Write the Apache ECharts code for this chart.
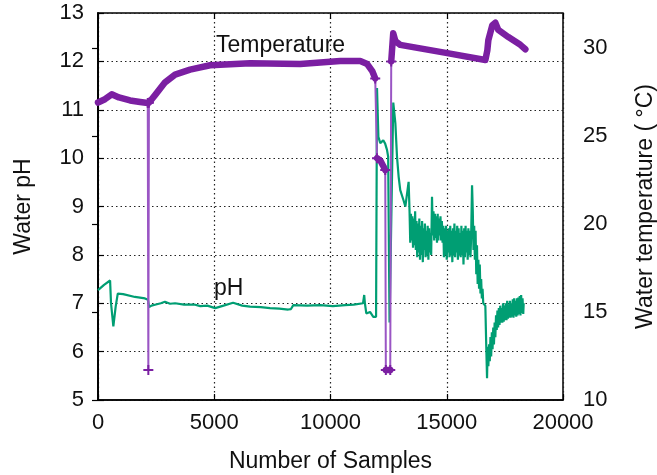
<!DOCTYPE html>
<html>
<head>
<meta charset="utf-8">
<script src="https://cdn.jsdelivr.net/npm/echarts@6/dist/echarts.min.js"></script>
<style>
html,body{margin:0;padding:0;background:#fff;}
#chart{width:657px;height:475px;}
</style>
</head>
<body>
<div id="chart"></div>
<script>
// ---- data ----
const xTicks = [0, 5000, 10000, 15000, 20000];
const phTicks = [5, 6, 7, 8, 9, 10, 11, 12, 13];
const tempTicks = [10, 15, 20, 25, 30];

// pH trace: sample index and water pH
const phSamples = [0,260,520,560,660,760,850,1080,1590,2020,2150,2200,2300,2450,2700,2880,3100,3315,3700,4176,4400,4700,5040,5400,5810,6200,6540,7000,7400,7800,8180,8300,8400,9000,9560,10100,10630,11000,11400,11450,11480,11540,11700,11840,11960,
12000,12060,12140,12270,12350,12430,12480,12540,12620,12700,12790,12860,12930,13000,13140,13220,13290,13360,
13400,13430,13460,13490,13520,13550,13580,13610,13640,13670,13700,13730,13760,13790,13820,13850,13880,13910,13940,13970,14000,14030,14060,14090,14120,14150,14180,14210,14240,14270,14300,14330,14366,
14400,14430,14460,14490,14520,14550,14580,14610,14640,14670,14700,14730,14760,14790,14820,14850,14880,14910,14940,14970,15000,15030,15060,15090,15120,15150,15180,15210,15240,15270,15300,15330,15360,15390,15420,15450,15480,15510,15540,15570,15600,15630,15660,15690,15720,15750,15780,15810,15840,15870,15900,15930,15960,15990,16020,16050,16088,
16120,16150,16180,16210,16240,16270,16300,16330,16360,16390,16420,16450,16480,16510,16540,16570,16620,16660,16700,16733,
16760,16790,16820,16850,16880,16910,16940,16970,17000,17030,17060,17090,17120,17150,17180,17210,17240,17270,17300,17330,17360,17390,17420,17450,17480,17510,17540,17570,17600,17630,17660,17690,17720,17750,17780,17810,17840,17870,17900,17930,17960,17990,18020,18050,18080,18110,18140,18170,18200,18230,18260,18290,18310];
const phValues = [7.27,7.38,7.47,7.0,6.52,6.93,7.2,7.19,7.13,7.1,7.07,6.92,6.95,6.97,7.0,7.03,6.99,7.0,6.97,6.97,6.94,6.95,6.9,6.95,7.01,6.95,6.93,6.92,6.9,6.89,6.87,6.88,6.96,6.95,6.96,6.94,6.96,6.97,7.0,7.17,7.0,6.79,6.82,6.72,6.72,
11.45,10.44,10.31,10.37,10.3,10.17,10.03,6.6,6.58,11.15,10.72,10.03,9.62,9.34,9.13,9.0,9.0,9.51,
8.9,8.25,8.85,8.3,8.8,8.15,8.75,8.2,8.9,8.1,8.7,7.95,8.65,8.05,8.75,7.9,8.6,8.0,8.7,7.85,8.55,8.1,8.65,7.95,8.5,8.0,8.6,7.9,8.55,8.05,8.45,8.0,9.2,
8.4,8.9,8.3,8.85,8.35,8.8,8.25,8.85,8.3,8.75,8.4,8.8,8.3,8.7,8.25,8.6,7.95,8.55,8.0,8.6,7.9,8.5,8.05,8.55,7.95,8.6,8.0,8.5,7.85,8.55,8.0,8.65,7.95,8.5,8.05,8.6,7.9,8.55,8.0,8.45,7.95,8.6,8.0,8.5,7.8,8.55,7.95,8.6,8.05,8.5,7.9,8.55,8.0,8.5,7.95,8.4,9.44,
8.9,8.1,8.6,7.9,8.5,7.6,8.2,7.4,7.9,7.3,7.8,7.2,7.5,7.1,7.3,7.0,7.0,6.95,6.1,5.45,
6.1,5.7,6.15,5.8,6.3,5.9,6.4,6.05,6.5,6.15,6.6,6.3,6.75,6.45,6.85,6.5,6.9,6.55,6.95,6.6,6.9,6.6,7.0,6.62,6.95,6.65,7.0,6.65,7.05,6.68,6.98,6.7,7.05,6.7,7.0,6.72,7.08,6.7,7.1,6.75,7.05,6.72,7.1,6.75,7.12,6.78,7.15,6.75,7.17,6.8,7.1,6.78,7.0];

// temperature trace: sample index and water temperature (°C)
const tempSamples = [0,300,590,900,1380,1810,2140,2165,2190,2454,2884,3315,3960,4821,6543,8696,10418,11279,11580,11795,11924,
12000,12054,12150,12250,12354,12380,12570,12612,12698,12790,13000,15024,16660,16746,16789,16961,17090,17219,17650,18166,18381];
const tempValues = [26.91,27.1,27.38,27.2,27.03,26.94,26.88,11.71,26.9,27.33,28.06,28.5,28.78,29.03,29.14,29.1,29.27,29.27,29.1,28.7,28.28,
23.75,23.75,23.6,23.35,23.07,11.71,11.71,29.25,30.85,30.4,30.19,29.72,29.33,29.88,30.46,31.31,31.45,31.04,30.63,30.19,29.94];

// ---- build ----
const PURPLE = '#7b1fa2';
const GREEN = '#009e73';
const TEXT = '#111';
const FONT = '"Liberation Sans", Arial, Helvetica, sans-serif';
const JUMP = 2;
const plus = 'path://M4,0H6V4H10V6H6V10H4V6H0V4H4Z';

const phData = phSamples.map((s, i) => [s, phValues[i]]);
const n = tempSamples.length;
const isJump = i => (i > 0 && Math.abs(tempValues[i] - tempValues[i - 1]) > JUMP) ||
                    (i < n - 1 && Math.abs(tempValues[i + 1] - tempValues[i]) > JUMP);
const thinData = tempSamples.map((s, i) => ({ value: [s, tempValues[i]], symbol: isJump(i) ? plus : 'none' }));
const thickData = [];
tempSamples.forEach((s, i) => {
  if (i > 0 && Math.abs(tempValues[i] - tempValues[i - 1]) > JUMP) {
    thickData.push([(s + tempSamples[i - 1]) / 2, '-']);
  }
  thickData.push([s, tempValues[i]]);
});

const chart = echarts.init(document.getElementById('chart'), null, { renderer: 'canvas' });
const dotted = { color: '#222', width: 1.2, type: [1.5, 3] };
const labelStyle = { color: TEXT, fontSize: 22, fontFamily: FONT };
const nameStyle = { color: TEXT, fontSize: 23, fontFamily: FONT };
const tickStyle = { show: true, inside: true, length: 6, lineStyle: { color: '#000', width: 1.2 } };

chart.setOption({
  animation: false,
  backgroundColor: '#fff',
  grid: { left: 98, right: 94, top: 13, bottom: 75, containLabel: false, outerBoundsMode: 'none',
          show: true, borderColor: '#000', borderWidth: 1.5, backgroundColor: 'transparent' },
  xAxis: [{
    type: 'value', min: xTicks[0], max: xTicks[xTicks.length - 1], interval: xTicks[1] - xTicks[0],
    name: 'Number of Samples', nameLocation: 'middle', nameGap: 50, nameTextStyle: nameStyle,
    axisLine: { show: true, lineStyle: { color: '#000', width: 1.5 } },
    axisTick: tickStyle,
    axisLabel: Object.assign({ margin: 12, formatter: v => String(v) }, labelStyle),
    splitLine: { show: true, lineStyle: dotted }
  }, {
    type: 'value', position: 'top', min: xTicks[0], max: xTicks[xTicks.length - 1], interval: xTicks[1] - xTicks[0],
    axisLine: { show: false }, axisLabel: { show: false }, splitLine: { show: false },
    axisTick: tickStyle
  }],
  yAxis: [{
    type: 'value', min: phTicks[0], max: phTicks[phTicks.length - 1], interval: phTicks[1] - phTicks[0],
    name: 'Water pH', nameLocation: 'middle', nameGap: 63, nameRotate: 90, nameTextStyle: nameStyle,
    axisLine: { show: true, lineStyle: { color: '#000', width: 1.5 } },
    axisTick: tickStyle,
    axisLabel: Object.assign({ margin: 14 }, labelStyle),
    splitLine: { show: true, lineStyle: dotted }
  }, {
    type: 'value', position: 'right', min: tempTicks[0], max: 32, interval: tempTicks[1] - tempTicks[0],
    name: 'Water temperature ( °C)', nameLocation: 'middle', nameGap: 71, nameRotate: 90, nameTextStyle: nameStyle,
    axisLine: { show: true, lineStyle: { color: '#000', width: 1.5 } },
    axisTick: tickStyle,
    axisLabel: Object.assign({ margin: 20, showMaxLabel: false }, labelStyle),
    splitLine: { show: false }
  }],
  series: [{
    name: 'pH', type: 'line', xAxisIndex: 0, yAxisIndex: 0, data: phData,
    showSymbol: false, symbol: 'none', lineStyle: { color: GREEN, width: 2.2 }, z: 2
  }, {
    name: 'Temperature thin', type: 'line', xAxisIndex: 0, yAxisIndex: 1, data: thinData,
    showAllSymbol: true, symbolSize: 10, itemStyle: { color: PURPLE },
    lineStyle: { color: '#9a55c4', width: 2 }, z: 3
  }, {
    name: 'Temperature', type: 'line', xAxisIndex: 0, yAxisIndex: 1, data: thickData,
    connectNulls: false, showSymbol: false, symbol: 'none',
    lineStyle: { color: PURPLE, width: 6.5, cap: 'round', join: 'round' }, z: 4
  }],
  graphic: [{
    type: 'text', left: 216, top: 34,
    style: { text: 'Temperature', fill: TEXT, font: '23px ' + FONT }
  }, {
    type: 'text', left: 214, top: 277,
    style: { text: 'pH', fill: TEXT, font: '23px ' + FONT }
  }]
});
</script>
</body>
</html>
